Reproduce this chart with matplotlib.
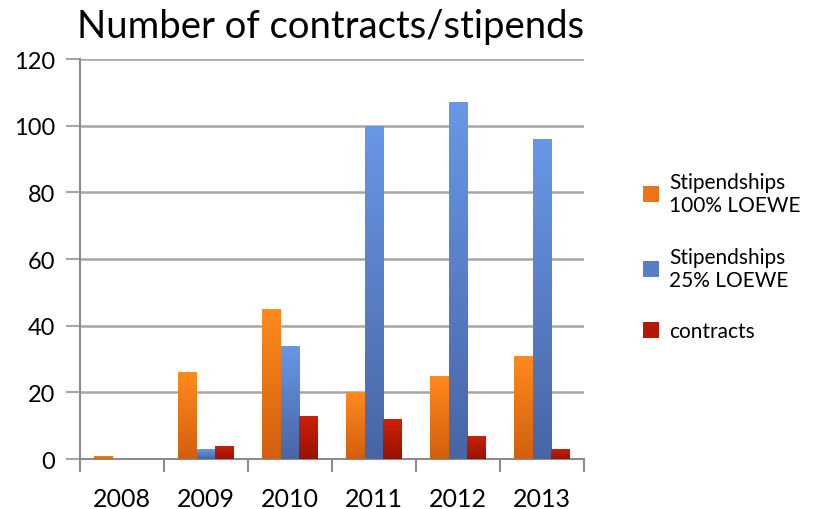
import numpy as np
import matplotlib.pyplot as plt
from matplotlib.colors import LinearSegmentedColormap
from matplotlib.patches import Patch

plt.rcParams['font.family'] = ['Lato', 'DejaVu Sans']

years = ['2008', '2009', '2010', '2011', '2012', '2013']
stip_100 = [1, 26, 45, 20, 25, 31]
stip_25 = [0, 3, 34, 100, 107, 96]
contracts = [0, 4, 13, 12, 7, 3]

series = [
    ('Stipendships\n100% LOEWE', stip_100, '#ff8a1e', '#d35f0e'),
    ('Stipendships\n25% LOEWE', stip_25, '#6897e6', '#4866a6'),
    ('contracts', contracts, '#cc2108', '#9a1200'),
]

fig = plt.figure(figsize=(8.19, 5.10), dpi=100)
ax = fig.add_axes([0.0977, 0.098, 0.6153, 0.784])

x = np.arange(len(years))
w = 0.225

handles = []
for i, (name, vals, top, bottom) in enumerate(series):
    cmap = LinearSegmentedColormap.from_list(name, [bottom, top])
    bars = ax.bar(x + (i - 1) * w, vals, w, color=top, zorder=3)
    for b in bars:
        if b.get_height() <= 0:
            continue
        bx, by = b.get_x(), b.get_y()
        bw, bh = b.get_width(), b.get_height()
        # vertical shading, lighter at the top of each bar
        grad = np.linspace(0, 1, 100).reshape(-1, 1)
        im = ax.imshow(grad, cmap=cmap, origin='lower', aspect='auto',
                       extent=[bx, bx + bw, by, by + bh], zorder=3.5)
        im.set_clip_path(b)
    handles.append(Patch(facecolor=cmap(0.5), label=name))

ax.set_xlim(-0.5, len(years) - 0.5)
ax.set_ylim(0, 120)
ax.set_yticks(range(0, 121, 20))
ax.yaxis.grid(True, color='#a6a6a6', linewidth=1.8, zorder=0)

# category separators as tick marks
ax.set_xticks(np.arange(-0.5, len(years), 1))
ax.set_xticklabels([])
ax.set_xticks(x, minor=True)
ax.set_xticklabels(years, minor=True)
ax.tick_params(axis='x', which='major', length=9, width=1.5, color='#8c8c8c')
ax.tick_params(axis='x', which='minor', length=0, labelsize=18, pad=20)
ax.tick_params(axis='y', length=10, width=1.5, color='#a6a6a6', labelsize=17, pad=8)

for s in ['top', 'right']:
    ax.spines[s].set_visible(False)
for s in ['left', 'bottom']:
    ax.spines[s].set_color('#8c8c8c')
    ax.spines[s].set_linewidth(1.5)

fig.text(0.404, 0.948, 'Number of contracts/stipends', ha='center', va='center',
         fontsize=27.5)

fig.legend(handles=handles, loc='center left', bbox_to_anchor=(0.762, 0.495),
           frameon=False, fontsize=15, handlelength=0.8, handleheight=0.8,
           handletextpad=0.45, labelspacing=1.5, alignment='left')

fig.savefig('out.png', dpi=100)
